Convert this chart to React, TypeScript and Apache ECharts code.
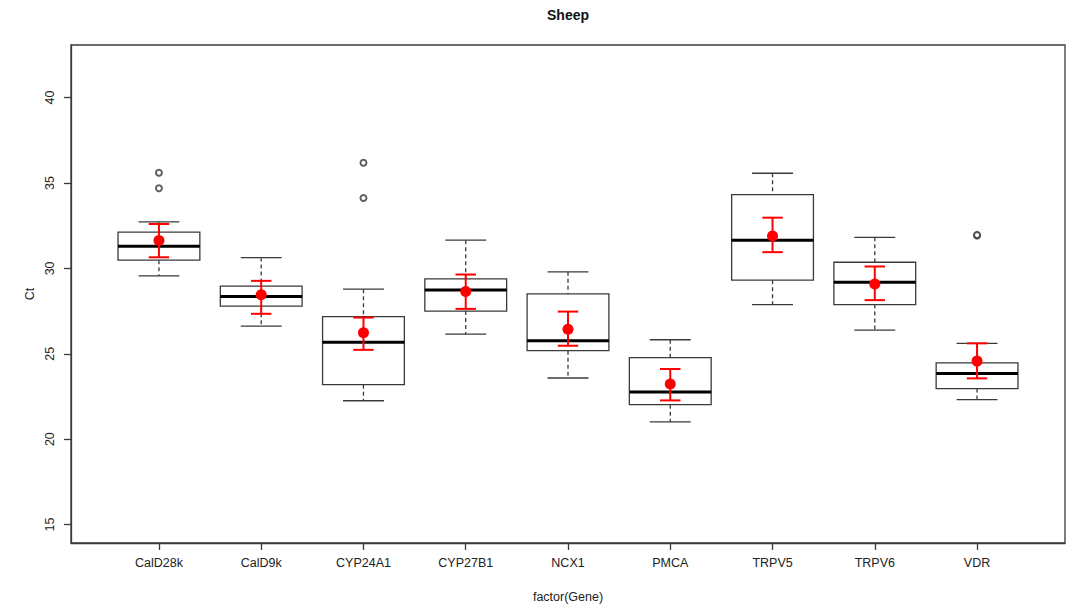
import React, { useEffect, useRef } from "react";
import * as echarts from "echarts";

const genes = ["CalD28k", "CalD9k", "CYP24A1", "CYP27B1", "NCX1", "PMCA", "TRPV5", "TRPV6", "VDR"];
// box stats: lower whisker, Q1, median, Q3, upper whisker
const whiskerLow = [29.56, 26.62, 22.25, 26.15, 23.58, 21.01, 27.88, 26.39, 22.32];
const q1 = [30.48, 27.79, 23.19, 27.5, 25.18, 22.02, 29.31, 27.88, 22.96];
const medians = [31.3, 28.35, 25.68, 28.73, 25.76, 22.76, 31.65, 29.19, 23.85];
const q3 = [32.12, 28.96, 27.18, 29.39, 28.51, 24.78, 34.32, 30.36, 24.47];
const whiskerHigh = [32.72, 30.63, 28.78, 31.65, 29.8, 25.82, 35.57, 31.82, 25.61];
// mean and error bars
const means = [31.63, 28.45, 26.23, 28.64, 26.44, 23.23, 31.9, 29.08, 24.57];
const errLow = [30.65, 27.34, 25.23, 27.63, 25.47, 22.27, 30.95, 28.14, 23.56];
const errHigh = [32.6, 29.27, 27.12, 29.64, 27.47, 24.11, 32.97, 30.11, 25.61];
// outliers: [gene index (1-based), value]
const outlierGene = [1, 1, 3, 3, 9, 9];
const outlierValue = [35.6, 34.69, 36.19, 34.12, 31.92, 31.96];
const yTicks = [15, 20, 25, 30, 35, 40];

const FONT = "'Liberation Sans', Arial, sans-serif";
const STROKE = "#3a3a3a";

export default function App() {
  const ref = useRef<HTMLDivElement>(null);
  useEffect(() => {
    document.body.style.margin = "0";
    if (!ref.current) return;
    const chart = echarts.init(ref.current, null, { renderer: "svg" });
    const xs = genes.map((_, i) => i + 1);
    const boxData = xs.map((x, i) => [x, whiskerLow[i], q1[i], medians[i], q3[i], whiskerHigh[i]]);
    const meanData = xs.map((x, i) => [x, means[i], errLow[i], errHigh[i]]);
    const outData = outlierGene.map((g, i) => [g, outlierValue[i]]);

    const option: any = {
      animation: false,
      backgroundColor: "#ffffff",
      grid: {
        left: 71,
        top: 45,
        right: 4,
        bottom: 64,
        show: true,
        borderColor: STROKE,
        borderWidth: 1.3,
        backgroundColor: "transparent",
      },
      xAxis: {
        type: "value",
        min: 0.14,
        max: 9.86,
        splitLine: { show: false },
        axisLine: { show: true, lineStyle: { color: STROKE, width: 1.3 } },
        axisTick: { show: true, customValues: xs, length: 7, lineStyle: { color: STROKE, width: 1.3 } },
        axisLabel: {
          customValues: xs,
          formatter: (v: number) => genes[Math.round(v) - 1] ?? "",
          color: "#222",
          fontFamily: FONT,
          fontSize: 12.5,
          margin: 13,
        },
      },
      yAxis: {
        type: "value",
        min: 13.92,
        max: 43.08,
        splitLine: { show: false },
        axisLine: { show: true, lineStyle: { color: STROKE, width: 1.3 } },
        axisTick: { show: true, customValues: yTicks, length: 7, lineStyle: { color: STROKE, width: 1.3 } },
        axisLabel: {
          customValues: yTicks,
          rotate: 90,
          color: "#222",
          fontFamily: FONT,
          fontSize: 12.5,
          margin: 15,
        },
      },
      graphic: [
        {
          type: "text",
          x: 568,
          y: 15,
          style: { text: "Sheep", font: `bold 14px ${FONT}`, fill: "#111", align: "center", verticalAlign: "middle" },
        },
        {
          type: "text",
          x: 568,
          y: 597,
          style: { text: "factor(Gene)", font: `12.5px ${FONT}`, fill: "#222", align: "center", verticalAlign: "middle" },
        },
        {
          type: "text",
          x: 30,
          y: 294,
          rotation: Math.PI / 2,
          style: { text: "Ct", font: `12.5px ${FONT}`, fill: "#222", align: "center", verticalAlign: "middle" },
        },
      ],
      series: [
        {
          type: "custom",
          data: boxData,
          encode: { x: 0, y: [1, 2, 3, 4, 5] },
          renderItem: (_params: any, api: any) => {
            const x = api.value(0);
            const lo = api.coord([x, api.value(1)]);
            const b1 = api.coord([x, api.value(2)]);
            const md = api.coord([x, api.value(3)]);
            const b3 = api.coord([x, api.value(4)]);
            const hi = api.coord([x, api.value(5)]);
            const bw = api.size([0.8, 0])[0];
            const cw = api.size([0.4, 0])[0];
            const cx = md[0];
            const dash = { stroke: STROKE, lineWidth: 1.3, lineDash: [4, 3], fill: null };
            const solid = { stroke: STROKE, lineWidth: 1.3, fill: null };
            return {
              type: "group",
              children: [
                { type: "line", shape: { x1: cx, y1: hi[1], x2: cx, y2: b3[1] }, style: dash },
                { type: "line", shape: { x1: cx, y1: b1[1], x2: cx, y2: lo[1] }, style: dash },
                { type: "line", shape: { x1: cx - cw / 2, y1: hi[1], x2: cx + cw / 2, y2: hi[1] }, style: solid },
                { type: "line", shape: { x1: cx - cw / 2, y1: lo[1], x2: cx + cw / 2, y2: lo[1] }, style: solid },
                {
                  type: "rect",
                  shape: { x: cx - bw / 2, y: b3[1], width: bw, height: b1[1] - b3[1] },
                  style: { stroke: STROKE, lineWidth: 1.3, fill: "#ffffff" },
                },
                {
                  type: "line",
                  shape: { x1: cx - bw / 2, y1: md[1], x2: cx + bw / 2, y2: md[1] },
                  style: { stroke: "#000", lineWidth: 3, fill: null },
                },
              ],
            };
          },
          z: 2,
        },
        {
          type: "scatter",
          data: outData,
          symbol: "emptyCircle",
          symbolSize: 6,
          itemStyle: { color: STROKE, borderWidth: 1 },
          z: 3,
        },
        {
          type: "custom",
          data: meanData,
          encode: { x: 0, y: [1, 2, 3] },
          renderItem: (_params: any, api: any) => {
            const x = api.value(0);
            const m = api.coord([x, api.value(1)]);
            const lo = api.coord([x, api.value(2)]);
            const hi = api.coord([x, api.value(3)]);
            const cw = api.size([0.2, 0])[0];
            const cx = m[0];
            const st = { stroke: "#ff0000", lineWidth: 2, fill: null };
            return {
              type: "group",
              children: [
                { type: "line", shape: { x1: cx, y1: hi[1], x2: cx, y2: lo[1] }, style: st },
                { type: "line", shape: { x1: cx - cw / 2, y1: hi[1], x2: cx + cw / 2, y2: hi[1] }, style: st },
                { type: "line", shape: { x1: cx - cw / 2, y1: lo[1], x2: cx + cw / 2, y2: lo[1] }, style: st },
                { type: "circle", shape: { cx, cy: m[1], r: 5.5 }, style: { fill: "#ff0000", stroke: null } },
              ],
            };
          },
          z: 4,
        },
      ],
    };
    chart.setOption(option);
    return () => chart.dispose();
  }, []);
  return <div ref={ref} style={{ width: 1069, height: 607 }} />;
}
